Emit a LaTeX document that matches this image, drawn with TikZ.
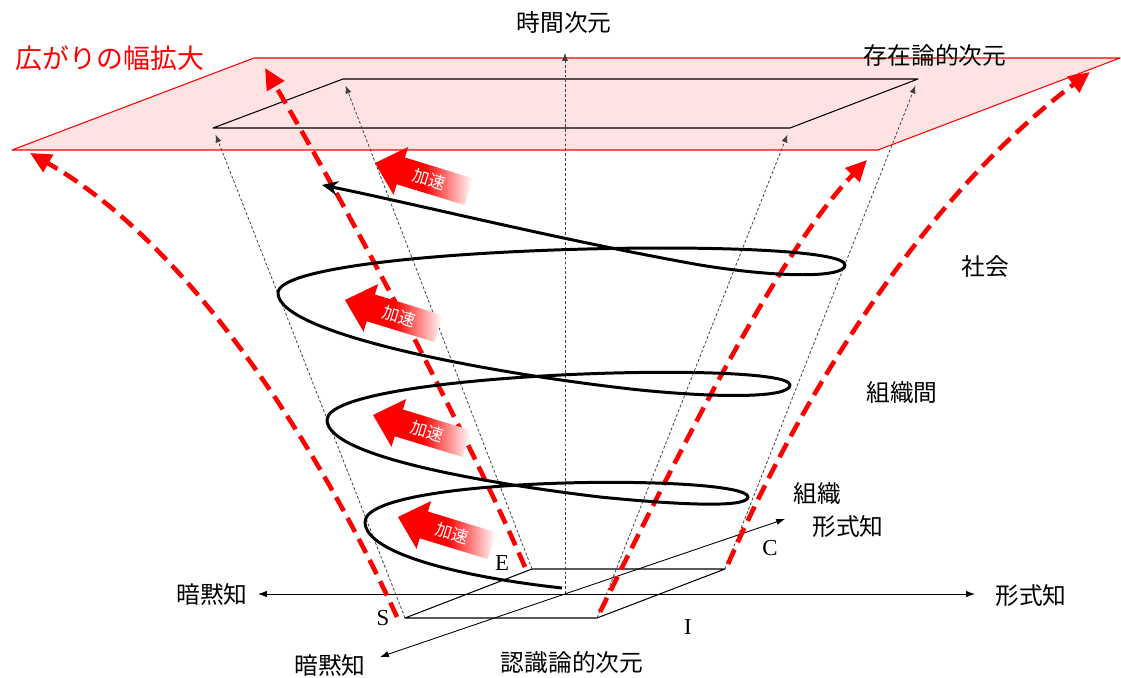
\documentclass[tikz,border=0pt]{standalone}
\usepackage{fontspec}
\setmainfont{Liberation Serif}
\newfontfamily\jp{Noto Sans CJK JP}
\usetikzlibrary{arrows.meta}
\usetikzlibrary{positioning}
\usetikzlibrary{calc}
\pgfdeclarehorizontalshading{accelfade}{100bp}{color(0bp)=(red); color(25bp)=(red); color(50bp)=(red); color(75bp)=(white); color(100bp)=(white)}

\begin{document}
\begin{tikzpicture}[x=0.02cm,y=-0.02cm,line join=round,
  lbl/.style={font=\jp\fontsize{13.5}{15}\selectfont},
  letter/.style={font=\fontsize{13}{15}\selectfont},
  plane/.style={draw=red,line width=0.6pt,fill=red!11},
  sheet/.style={draw=black,line width=0.6pt},
  guide/.style={draw=black!75,line width=0.45pt,dash pattern=on 1.6pt off 1.2pt,shorten >=4pt,-{Latex[length=4.5pt,width=3.5pt]}},
  axis/.style={draw=black,line width=0.5pt,{Latex[length=5pt,width=3.6pt]}-{Latex[length=5pt,width=3.6pt]}},
  spread/.style={draw=red,line width=2.6pt,dash pattern=on 9pt off 4.5pt,-{Triangle[length=12pt,width=11pt]}},
  helix/.style={draw=black,line width=1.7pt,-{Stealth[length=9pt,width=8pt]}},
  accel text/.style={font=\jp\fontsize{9.5}{10}\selectfont,text=white,rotate=-17},
  accel/.pic={
    \begin{scope}[rotate=-17]
    \shade[shading=accelfade] (0,0) -- (27,-25) -- (27,-14) -- (98,-14) -- (98,14) -- (27,14) -- (27,25) -- cycle;
    \node[accel text] (-t) at (57,0) {加速};
    \end{scope}}]
\path[fill=white] (0,0) rectangle (1121,678);
\useasboundingbox (0,0) rectangle (1121,678);
\draw[plane] (12,150) -- (878,150) -- (1120,58) -- (254,58) -- cycle;
\coordinate (S) at (405,618);
\coordinate (I) at (597,618);
\coordinate (C) at (725,569);
\coordinate (E) at (532,569);
\coordinate (Stop) at (213,128);
\coordinate (Itop) at (790,128);
\coordinate (Ctop) at (918,79);
\coordinate (Etop) at (343,79);
\coordinate (O) at (565,594);
\coordinate (Otop) at (565,46);
\draw[sheet] (Stop) -- (Itop) -- (Ctop) -- (Etop) -- cycle;
\draw[sheet] (S) -- (I) -- (C) -- (E) -- cycle;
\draw[guide] (S) -- (Stop);
\draw[guide] (I) -- (Itop);
\draw[guide] (C) -- (Ctop);
\draw[guide] (E) -- (Etop);
\draw[guide] (O) -- (Otop);
\coordinate (axL) at (258,594);
\coordinate (axR) at (975,594);
\coordinate (axB) at (380,657);
\coordinate (axF) at (785,519);
\draw[axis] (axL) -- (axR);
\draw[axis] (axB) -- (axF);
\coordinate (S0) at (397,617);
\coordinate (E0) at (525,567);
\coordinate (I0) at (600,612);
\coordinate (C0) at (728,564);
\coordinate (Stip) at (30,153);
\coordinate (Etip) at (265,68);
\coordinate (Itip) at (867,160);
\coordinate (Ctip) at (1090,72);
\draw[spread] (S0) .. controls (330,470) and (200,250) .. (Stip);
\draw[spread] (E0) .. controls (470,440) and (360,230) .. (Etip);
\draw[spread] (I0) .. controls (680,450) and (780,250) .. (Itip);
\draw[spread] (C0) .. controls (800,400) and (920,200) .. (Ctip);
\coordinate (H0) at (562,588);
\coordinate (H1) at (322,185);
\draw[helix] (H0) .. controls (470,578) and (365,555) .. (365,522)
  .. controls (365,475) and (748,474) .. (748,497)
  .. controls (748,508) and (680,505) .. (600,497)
  .. controls (500,485) and (327,458) .. (327,420)
  .. controls (327,372) and (790,360) .. (790,385)
  .. controls (790,398) and (720,398) .. (640,390)
  .. controls (500,375) and (278,335) .. (278,293)
  .. controls (278,245) and (845,235) .. (845,265)
  .. controls (845,278) and (780,278) .. (700,265)
  .. controls (560,240) and (420,205) .. (H1);
\pic (a1) at (375,163) {accel};
\pic (a2) at (345,300) {accel};
\pic (a3) at (373,415) {accel};
\pic (a4) at (398,517) {accel};
\node[lbl] (time) at (564,22) {時間次元};
\node[lbl] (onto) at (935,55) {存在論的次元};
\node[lbl,font=\jp\fontsize{15.3}{17}\selectfont,text=red] (spread) at (110,58) {広がりの幅拡大};
\node[lbl] (society) at (985,267) {社会};
\node[lbl] (interorg) at (902,393) {組織間};
\node[lbl] (org) at (817,494) {組織};
\node[lbl] (explF) at (848,527) {形式知};
\node[lbl] (tacitL) at (212,594) {暗黙知};
\node[lbl] (explR) at (1031,596) {形式知};
\node[lbl] (tacitF) at (330,665) {暗黙知};
\node[lbl] (epis) at (572,662) {認識論的次元};
\node[letter] (s) at (383,618) {S};
\node[letter] (e) at (502,563) {E};
\node[letter] (c) at (770,548) {C};
\node[letter] (i) at (688,627) {I};
\end{tikzpicture}
\end{document}
